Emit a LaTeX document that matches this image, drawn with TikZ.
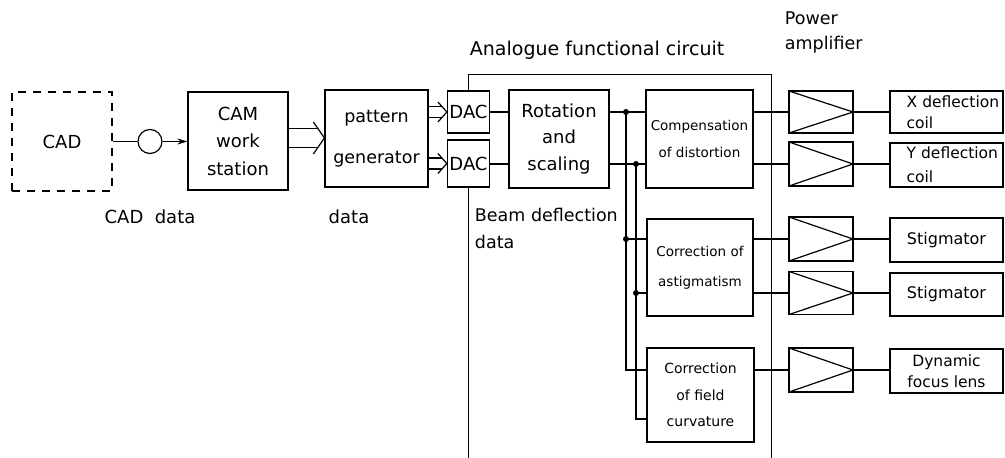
\documentclass[tikz,border=0pt]{standalone}
\usepackage{fontspec}
\setmainfont{DejaVu Sans}
\usetikzlibrary{arrows.meta,positioning,calc}
% wide data arrow: start, tip, half gap, tip length, tip half width
\newcommand\fatarrow[5]{%
  \draw ($(#1)+(0,#3)$) -- ($(#2)+({-#4*#3/#5},#3)$);
  \draw ($(#1)+(0,-#3)$) -- ($(#2)+({-#4*#3/#5},-#3)$);
  \draw ($(#2)+(-#4,-#5)$) -- (#2) -- ($(#2)+(-#4,#5)$);}

\begin{document}
\begin{tikzpicture}[x=1pt, y=-1pt, line width=1.2pt, font=\fontsize{18}{26.5}\selectfont,
  box/.style={draw, align=center, inner sep=0pt},
  sbox/.style={box, font=\fontsize{13.5}{27}\selectfont},
  obox/.style={box, minimum width=113pt, font=\fontsize{15.5}{21}\selectfont},
  amp/.style={draw, minimum width=64pt, inner sep=0pt,
    path picture={\draw (path picture bounding box.north west) -- (path picture bounding box.east) -- (path picture bounding box.south west);}},
  dot/.style={circle, fill, inner sep=0pt, minimum size=6pt}]
\useasboundingbox (0,0) rectangle (1005,458);

% input side
\node[box, dashed, dash pattern=on 8pt off 7pt, minimum width=100pt, minimum height=99pt] (cad) at (62,141.5) {CAD};
\node[draw, circle, minimum size=24pt, inner sep=0pt] (tape) at (150,141.5) {};
\node[box, minimum width=100pt, minimum height=98pt, font=\fontsize{18}{27.5}\selectfont] (cam) at (238,141) {CAM\\work\\station};
\node[box, minimum width=103pt, minimum height=97pt, font=\fontsize{17.5}{41}\selectfont] (pgen) at (376.5,138.5) {pattern\\generator};
\node (cadlab) at (150,217) {CAD\ \ data};
\node (datlab) at (349,217) {data};

% analogue functional circuit
\node[minimum width=303pt, minimum height=405pt] (afc) at (619.5,277.5) {};
\node[anchor=west, font=\fontsize{19}{24}\selectfont] (afclab) at (466,50) {Analogue functional circuit};
\node[box, minimum width=42pt, minimum height=42pt] (dac1) at (468.5,112) {DAC};
\node[box, minimum width=42pt, minimum height=47pt] (dac2) at (468.5,163.5) {DAC};
\draw (dac1.north) |- (afc.north east) -- (afc.south east);
\draw (dac2.south) -- (dac2.south |- afc.south);
\node[box, minimum width=100pt, minimum height=98pt] (rot) at (559,139) {Rotation\\and\\scaling};
\node[anchor=west, align=left, font=\fontsize{17.5}{27}\selectfont] (beamlab) at (471,228.5) {Beam deflection\\data};
\node[sbox, minimum width=107pt, minimum height=98pt] (comp) at (699.5,139) {Compensation\\of distortion};
\node[sbox, minimum width=106pt, minimum height=97pt, font=\fontsize{13.5}{30}\selectfont] (astig) at (700,267.5) {Correction of\\astigmatism};
\node[sbox, minimum width=107pt, minimum height=94pt, font=\fontsize{14}{26.5}\selectfont] (field) at (700.5,395) {Correction\\of field\\curvature};
\coordinate (bus1) at (626,0);
\coordinate (bus2) at (636,0);

% power amplifiers and outputs
\node[anchor=west, align=left, font=\fontsize{17.5}{25}\selectfont] (amplab) at (781,32.5) {Power\\amplifier};
\node[amp, minimum height=42pt] (amp1) at (821,112) {};
\node[amp, minimum height=44pt] (amp2) at (821,164) {};
\node[amp, minimum height=44pt] (amp3) at (821,239) {};
\node[amp, minimum height=43pt] (amp4) at (821,293) {};
\node[amp, minimum height=44pt] (amp5) at (821,370) {};
\node[obox, minimum height=42pt, text width=80pt, align=left] (xcoil) at (946.5,112) {\mbox{X deflection}\\coil};
\node[obox, minimum height=44pt, text width=80pt, align=left, font=\fontsize{15.5}{24}\selectfont] (ycoil) at (946.5,165) {\mbox{Y deflection}\\coil};
\node[obox, minimum height=44pt, font=\fontsize{16}{21}\selectfont] (stig1) at (946.5,240) {Stigmator};
\node[obox, minimum height=43pt, font=\fontsize{16}{21}\selectfont] (stig2) at (946.5,294.5) {Stigmator};
\node[obox, minimum height=44pt] (dyn) at (946.5,371) {Dynamic\\focus lens};

% connections
\draw (cad) -- (tape);
\draw[-{Stealth[length=10pt, width=6pt]}] (tape) -- (tape -| cam.west);
\fatarrow{cam.east |- 0,138}{pgen.west |- 0,138}{9.5}{11}{16}
\fatarrow{pgen.east |- dac1}{dac1.west}{5.5}{9}{10}
\fatarrow{pgen.east |- dac2}{dac2.west}{5.5}{9}{10}
\draw (dac1.east) -- (dac1 -| rot.west);
\draw (dac2.east |- amp2) -- (rot.west |- amp2);
\draw (rot.east |- amp1) -- (comp.west |- amp1);
\draw (rot.east |- amp2) -- (comp.west |- amp2);
\draw (bus1 |- amp1) |- (field.west |- amp5);
\draw (bus2 |- amp2) |- ([yshift=-24pt]field.west);
\draw (bus1 |- amp3) -- (astig.west |- amp3);
\draw (bus2 |- amp4) -- (astig.west |- amp4);
\node[dot] (j1) at (bus1 |- amp1) {};
\node[dot] (j2) at (bus2 |- amp2) {};
\node[dot] (j3) at (bus1 |- amp3) {};
\node[dot] (j4) at (bus2 |- amp4) {};
\draw (comp.east |- amp1) -- (amp1.west);
\draw (comp.east |- amp2) -- (amp2.west);
\draw (astig.east |- amp3) -- (amp3.west);
\draw (astig.east |- amp4) -- (amp4.west);
\draw (field.east |- amp5) -- (amp5.west);
\draw (amp1.east) -- (amp1.east -| xcoil.west);
\draw (amp2.east) -- (amp2.east -| ycoil.west);
\draw (amp3.east) -- (amp3.east -| stig1.west);
\draw (amp4.east) -- (amp4.east -| stig2.west);
\draw (amp5.east) -- (amp5.east -| dyn.west);
\end{tikzpicture}
\end{document}
